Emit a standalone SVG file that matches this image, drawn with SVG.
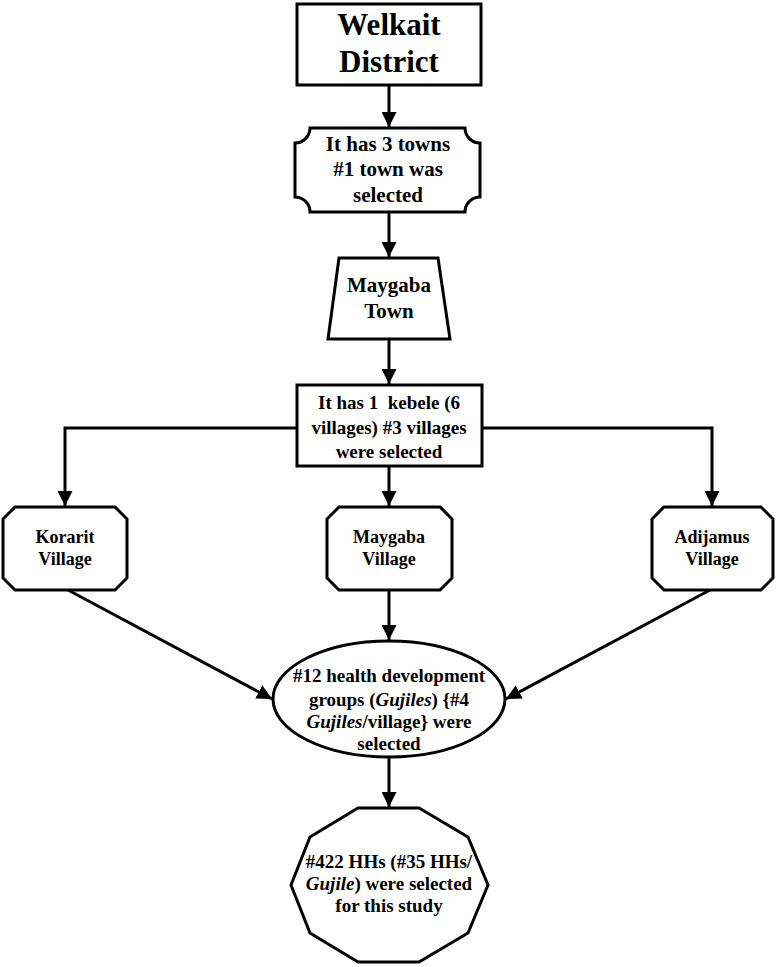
<svg xmlns="http://www.w3.org/2000/svg" width="778" height="967" viewBox="0 0 778 967">
<style>
.s{fill:#fff;stroke:#000;stroke-width:3;stroke-linejoin:miter}
.c{fill:none;stroke:#000;stroke-width:3}
text{font-family:"Liberation Serif","Times New Roman",serif;font-weight:bold;fill:#000;text-anchor:middle}
.t31{font-size:31px}.t21{font-size:21px}.t19{font-size:19px}.t18{font-size:18px}
</style>
<defs>
<marker id="ah" markerWidth="5" markerHeight="5" refX="5" refY="2.5" orient="auto" markerUnits="strokeWidth">
<path d="M0,0 L5,2.5 L0,5 Z" fill="#000"/>
</marker>
</defs>
<rect width="778" height="967" fill="#fff"/>
<g id="connectors">
<line class="c" x1="389" y1="86" x2="389" y2="127" marker-end="url(#ah)"/>
<line class="c" x1="389" y1="212" x2="389" y2="257" marker-end="url(#ah)"/>
<line class="c" x1="389" y1="339" x2="389" y2="384" marker-end="url(#ah)"/>
<polyline class="c" points="297,428 65,428 65,506" marker-end="url(#ah)"/>
<polyline class="c" points="482,428 712,428 712,506" marker-end="url(#ah)"/>
<line class="c" x1="389" y1="467" x2="389" y2="506" marker-end="url(#ah)"/>
<line class="c" x1="389" y1="590" x2="389" y2="640" marker-end="url(#ah)"/>
<line class="c" x1="68" y1="590" x2="272" y2="699" marker-end="url(#ah)"/>
<line class="c" x1="710" y1="590" x2="506" y2="699" marker-end="url(#ah)"/>
<line class="c" x1="389" y1="758" x2="389" y2="807" marker-end="url(#ah)"/>
</g>
<g id="welkait">
<rect class="s" x="297" y="4" width="184" height="81"/>
<text class="t31" x="389" y="35">Welkait</text>
<text class="t31" x="389" y="72">District</text>
</g>
<g id="towns">
<path class="s" d="M310,128 H465 A15,15 0 0 0 480,143 V197 A15,15 0 0 0 465,212 H310 A15,15 0 0 0 295,197 V143 A15,15 0 0 0 310,128 Z"/>
<text class="t21" x="388" y="151">It has 3 towns</text>
<text class="t21" x="388" y="176">#1 town was</text>
<text class="t21" x="388" y="202">selected</text>
</g>
<g id="maygaba-town">
<path class="s" d="M339,258 H438 L450,339 H328 Z"/>
<text class="t21" x="389" y="292">Maygaba</text>
<text class="t21" x="389" y="318">Town</text>
</g>
<g id="kebele">
<rect class="s" x="297" y="385" width="185" height="81"/>
<text class="t19" x="389" y="409" style="white-space:pre">It has 1  kebele (6</text>
<text class="t19" x="389" y="434">villages) #3 villages</text>
<text class="t19" x="389" y="458">were selected</text>
</g>
<g id="korarit">
<path class="s" d="M15,507 H115 L127,519 V578 L115,590 H15 L3,578 V519 Z"/>
<text class="t18" x="65" y="543">Korarit</text>
<text class="t18" x="65" y="565">Village</text>
</g>
<g id="maygaba-village">
<path class="s" d="M339,507 H440 L452,519 V578 L440,590 H339 L327,578 V519 Z"/>
<text class="t18" x="389" y="543">Maygaba</text>
<text class="t18" x="389" y="565">Village</text>
</g>
<g id="adijamus">
<path class="s" d="M664,507 H761 L773,519 V578 L761,590 H664 L652,578 V519 Z"/>
<text class="t18" x="712" y="543">Adijamus</text>
<text class="t18" x="712" y="565">Village</text>
</g>
<g id="gujiles">
<ellipse class="s" cx="389" cy="699" rx="116" ry="58"/>
<text class="t19" x="389" y="682">#12 health development</text>
<text class="t19" x="389" y="706">groups (<tspan font-style="italic">Gujiles</tspan>) {#4</text>
<text class="t19" x="389" y="728"><tspan font-style="italic">Gujiles</tspan>/village} were</text>
<text class="t19" x="389" y="750">selected</text>
</g>
<g id="households">
<path class="s" d="M358,808 H419 L468,837 L488,885 L468,933 L419,962 H358 L310,933 L291,885 L310,837 Z"/>
<text class="t19" x="389" y="868">#422 HHs (#35 HHs/</text>
<text class="t19" x="389" y="890"><tspan font-style="italic">Gujile</tspan>) were selected</text>
<text class="t19" x="389" y="912">for this study</text>
</g>
</svg>
